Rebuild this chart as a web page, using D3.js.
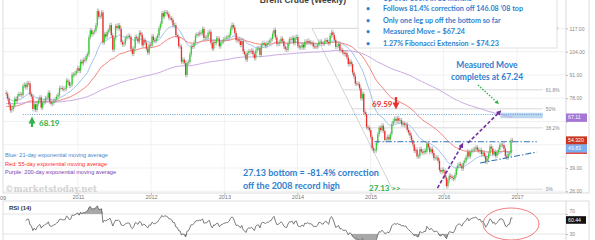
<!DOCTYPE html>
<html>
<head>
<meta charset="utf-8">
<script src="https://cdn.jsdelivr.net/npm/d3@7"></script>
<style>
  body { margin: 0; background: #fff; }
  svg { display: block; font-family: "Liberation Sans", Arial, sans-serif; }
  .note { font-family: Lato, "Open Sans", sans-serif; font-weight: bold; }
</style>
</head>
<body>
<svg width="595" height="240"></svg>
<script>
// weekly closes, Brent crude, first week = Jan 8 2010
const c2010 = [80.4,77.8,74.5,71.2, 71.9,73.8,77.6,76.4, 79.2,80.3,80.1,79.7, 84.9,85.5,84.1,86.4,86.2,
  80.2,79.0,72.0,74.6, 71.5,74.8,76.9,78.4, 72.7,75.5,76.0,78.0,78.2, 81.0,76.0,74.9,75.4,
  76.6,77.3,78.9,79.9, 83.6,83.7,83.2,83.0,83.5, 87.8,87.1,85.1,85.6, 91.2,91.0,91.8,93.2,94.8];
const c2011 = [93.3,98.4,97.4,99.4, 99.2,101.4,102.5,112.1, 115.9,113.8,114.9,115.6, 118.7,126.7,123.5,123.9,125.9,
  109.1,113.8,112.4,115.0, 115.8,118.8,113.2,105.1, 111.6,118.3,117.2,118.7,116.7, 109.4,108.0,108.6,111.4,
  112.3,112.8,112.2,105.4,102.8, 105.9,112.2,111.6,109.6, 114.6,113.6,107.6,110.5, 109.0,105.6,103.4,107.9,107.4];
const c2012 = [112.5,110.4,110.0,111.5, 113.0,117.1,119.6,125.5, 123.6,126.0,125.8,125.1,122.9, 122.7,121.7,118.7,118.8,
  113.2,112.3,107.1,106.8, 98.4,99.5,97.6,91.0,97.8, 98.2,102.4,107.0,106.8, 108.9,112.9,113.7,113.6,114.6,
  114.3,116.7,111.6,112.0, 112.0,114.6,115.1,108.8, 105.7,109.4,108.9,111.4,111.2, 107.0,109.1,109.6,110.8];
const c2013 = [111.3,111.9,111.9,113.3, 116.8,118.9,117.7,114.4, 110.4,110.9,109.9,107.7,110.0, 104.1,102.6,99.6,103.2,
  104.2,103.9,104.6,102.6,100.4, 104.6,105.9,105.9,102.2, 107.7,108.8,108.1,107.2, 108.9,108.9,110.4,111.0,114.0,
  116.1,112.0,108.2,108.6, 109.5,111.3,109.9,106.9, 105.5,105.1,108.5,111.0,110.7, 111.6,108.8,111.8,112.2];
const c2014 = [107.3,106.4,106.4,107.9,106.4, 109.6,109.1,110.0,109.1, 109.0,108.7,106.9,106.8, 106.7,107.5,109.5,109.6,
  108.6,108.4,109.8,110.5,109.4, 108.6,113.0,114.8,113.3, 110.6,106.7,107.2,108.4, 104.8,105.0,103.5,102.7,103.2,
  100.8,97.1,98.4,97.0, 92.3,90.2,86.2,86.1,85.9, 83.4,77.9,80.4,70.2, 69.1,61.9,61.4,60.2];
const c2015 = [56.4,50.1,48.8,48.8,53.0, 57.8,61.5,60.2,62.6, 59.7,54.7,55.3,56.4, 54.9,57.9,63.5,65.3,
  66.5,65.4,66.8,65.4,65.6, 63.3,63.9,63.0,63.3, 60.3,58.7,57.1,54.6,52.2, 48.6,49.2,45.5,45.5,
  49.6,48.1,47.5,48.6, 48.1,52.7,50.5,48.0,49.6, 47.4,44.5,44.7,44.9, 43.0,37.9,36.9,37.9];
const c2016 = [37.3,33.6,28.9,32.2,34.7, 34.1,33.4,33.0,35.1, 38.7,40.4,41.2,40.4, 38.7,41.9,43.1,45.1,48.1,
  45.4,47.8,48.7,49.3, 49.6,50.5,49.2,48.4, 49.0,46.8,47.6,45.7,42.5, 44.3,47.0,50.9,49.9,
  46.8,48.0,45.8,47.7,49.2, 51.9,52.0,51.8,49.7, 45.6,44.8,46.9,47.2, 54.5,54.32];

const closes = [].concat(c2010, c2011, c2012, c2013, c2014, c2015, c2016);
const firstWeek = new Date(2010, 0, 8);

// moving averages: periods and their levels read at the left edge
const emaPeriods = [21, 55, 200];
const emaSeeds = [78, 73, 75];
const emaColors = ["#9ec3ea", "#f3807a", "#c9a6e2"];

const priceTicks = [26, 39, 52, 65, 78, 91, 104, 117];
const yearTicks = [2011, 2012, 2013, 2014, 2015, 2016, 2017];

// fibonacci retracement
const fibLow = 27.13, fibHigh = 117;
const fibLevels = [0, 0.382, 0.5, 0.618, 1];
const fibLabels = ["0%", "38.2%", "50%", "61.8%", "100%"];

const boxLines = ["Up over 100% in 11 months",
  "Follows 81.4% correction off 146.08  \u201808 top",
  "Only one leg up off the bottom so far",
  "Measured Move = $67.24",
  "1.27%  Fibonacci Extension = $74.23"];

const badges = [
  {label: "67.11", value: 67.11, fill: "#a477d6"},
  {label: "54.320", value: 54.32, fill: "#c9361f"},
  {label: "49.83", value: 49.83, fill: "#7aaef0"}
];
const rsiBadge = 60.44;

const svg = d3.select("svg");
const W = 595, H = 240;
const plotL = 3, plotR = 566, plotB = 193;
const rsiT = 201, rsiB = 240;

let x = d3.scaleTime()
  .domain([new Date(2010, 0, 1), new Date(2017, 0, 1)])
  .range([4.8, 517]);
let y = d3.scaleLinear().domain([39, 117]).range([168, 28.4]);
let yr = d3.scaleLinear().domain([30, 70]).range([234, 214]);

const dates = closes.map((c, i) => d3.timeDay.offset(firstWeek, 7 * i));

function ema(vals, n, seed) {
  const k = 2 / (n + 1);
  let e = seed;
  return vals.map(v => (e = v * k + e * (1 - k)));
}

function rsi(vals, n) {
  let ag = 0, al = 0;
  const out = [null];
  for (let i = 1; i < vals.length; i++) {
    const ch = vals[i] - vals[i - 1];
    const g = Math.max(ch, 0), l = Math.max(-ch, 0);
    if (i <= n) {
      ag += g / n; al += l / n;
      out.push(i < n ? null : 100 - 100 / (1 + ag / al));
    } else {
      ag = (ag * (n - 1) + g) / n;
      al = (al * (n - 1) + l) / n;
      out.push(100 - 100 / (1 + ag / al));
    }
  }
  return out;
}

svg.append("rect").attr("width", W).attr("height", H).attr("fill", "#fff");

const defs = svg.append("defs");
defs.append("clipPath").attr("id", "main")
  .append("rect").attr("x", plotL).attr("y", 0).attr("width", plotR - plotL).attr("height", plotB);
defs.append("clipPath").attr("id", "rsi")
  .append("rect").attr("x", plotL).attr("y", rsiT).attr("width", plotR - plotL).attr("height", rsiB - rsiT);

function marker(id, color) {
  defs.append("marker").attr("id", id)
    .attr("viewBox", "0 0 10 10").attr("refX", 5).attr("refY", 5)
    .attr("markerWidth", 3.2).attr("markerHeight", 3.2).attr("orient", "auto")
    .append("path").attr("d", "M0,0L10,5L0,10z").attr("fill", color);
}
marker("arrP", "#7030a0");
marker("arrG", "#2fb24a");
marker("arrR", "#e8312a");

// grid
const grid = svg.append("g");
grid.selectAll(".vg").data(yearTicks).enter().append("line")
  .attr("x1", d => x(new Date(d, 0, 1))).attr("x2", d => x(new Date(d, 0, 1)))
  .attr("y1", 0).attr("y2", plotB)
  .attr("stroke", "#eeeeee").attr("stroke-width", 0.8);
grid.selectAll(".hg").data(priceTicks).enter().append("line")
  .attr("x1", plotL).attr("x2", plotR)
  .attr("y1", d => y(d)).attr("y2", d => y(d))
  .attr("stroke", "#eeeeee").attr("stroke-width", 0.8);
grid.selectAll(".rg").data([70, 30]).enter().append("line")
  .attr("x1", plotL).attr("x2", plotR)
  .attr("y1", d => yr(d)).attr("y2", d => yr(d))
  .attr("stroke", "#dddddd").attr("stroke-width", 0.8);

// frames
svg.append("rect").attr("x", plotL).attr("y", -1).attr("width", 586).attr("height", plotB + 1)
  .attr("fill", "none").attr("stroke", "#d4d4d4").attr("stroke-width", 0.8);
svg.append("line").attr("x1", plotR).attr("x2", plotR).attr("y1", 0).attr("y2", plotB)
  .attr("stroke", "#cfcfcf").attr("stroke-width", 0.8);
svg.append("rect").attr("x", plotL).attr("y", rsiT).attr("width", 586).attr("height", 45)
  .attr("fill", "none").attr("stroke", "#d4d4d4").attr("stroke-width", 0.8);
svg.append("line").attr("x1", plotR).attr("x2", plotR).attr("y1", rsiT).attr("y2", rsiB)
  .attr("stroke", "#cfcfcf").attr("stroke-width", 0.8);

// axes
const axX = svg.append("g").attr("transform", `translate(0, ${plotB})`)
  .call(d3.axisBottom(x).tickValues(yearTicks.map(d => new Date(d, 0, 1)))
    .tickFormat(d3.timeFormat("%Y")).tickSize(2).tickPadding(0.5));
axX.select(".domain").remove();
axX.selectAll("line").attr("stroke", "#bbb");
axX.selectAll("text").attr("font-size", 5.5).attr("fill", "#777");
svg.append("text").attr("x", 0).attr("y", 200).attr("font-size", 5.5).attr("fill", "#777").text("09");

// tick labels hidden by the value badges are left out, as in the picture
const hidden = d => badges.some(b => Math.abs(y(b.value) - y(d)) < 7);
const axY = svg.append("g").attr("transform", `translate(${plotR}, 0)`)
  .call(d3.axisRight(y).tickValues(priceTicks)
    .tickFormat(d => hidden(d) ? "" : d3.format(".2f")(d)).tickSize(2).tickPadding(1.5));
axY.select(".domain").remove();
axY.selectAll("line").attr("stroke", "#bbb");
axY.selectAll("text").attr("font-size", 5).attr("fill", "#888");

const axR = svg.append("g").attr("transform", `translate(${plotR}, 0)`)
  .call(d3.axisRight(yr).tickValues([70, 30]).tickSize(2).tickPadding(1.5));
axR.select(".domain").remove();
axR.selectAll("line").attr("stroke", "#bbb");
axR.selectAll("text").attr("font-size", 5).attr("fill", "#888")
  .attr("dy", d => d === 70 ? "-0.25em" : "0.32em");

// main chart content
const main = svg.append("g").attr("clip-path", "url(#main)");

// fibonacci tool
const fibStart = new Date(2014, 2, 15), fibEnd = new Date(2015, 3, 20), fibRight = new Date(2017, 4, 10);
main.append("line")
  .attr("x1", x(fibStart)).attr("y1", y(fibHigh)).attr("x2", x(fibEnd)).attr("y2", y(fibLow))
  .attr("stroke", "#c8c8c8").attr("stroke-width", 0.8);
const fibX = d3.scaleLinear().domain([fibHigh, fibLow]).range([x(fibStart), x(fibEnd)]);
main.selectAll(".fib").data(fibLevels).enter().append("line")
  .attr("x1", d => fibX(fibLow + d * (fibHigh - fibLow)))
  .attr("x2", x(fibRight))
  .attr("y1", d => y(fibLow + d * (fibHigh - fibLow)))
  .attr("y2", d => y(fibLow + d * (fibHigh - fibLow)))
  .attr("stroke", "#cfcfcf").attr("stroke-width", 0.8);
main.selectAll(".fibt").data(fibLevels).enter().append("text")
  .attr("x", x(fibRight) + 3)
  .attr("y", d => y(fibLow + d * (fibHigh - fibLow)) + 1.7)
  .attr("font-size", 4.8).attr("fill", "#888")
  .text((d, i) => fibLabels[i]);

// measured move target zone
main.append("rect")
  .attr("x", x(new Date(2016, 9, 10))).attr("width", x(fibRight) - x(new Date(2016, 9, 10)))
  .attr("y", y(69.9)).attr("height", y(66.8) - y(69.9))
  .attr("fill", "#bcd6f0");

// dotted 68.19 level
main.append("line")
  .attr("x1", x(new Date(2010, 3, 1))).attr("x2", x(fibRight))
  .attr("y1", y(68.9)).attr("y2", y(68.9))
  .attr("stroke", "#5b9bd5").attr("stroke-width", 0.9).attr("stroke-dasharray", "1,1.3");

// moving averages
const line = d3.line().x((d, i) => x(dates[i])).y(d => y(d));
emaPeriods.forEach((n, k) => {
  main.append("path").datum(ema(closes, n, emaSeeds[k]))
    .attr("d", line).attr("fill", "none")
    .attr("stroke", emaColors[k]).attr("stroke-width", 1);
});

// candles
const wickPad = 2.4;
const candles = main.append("g");
closes.forEach((c, i) => {
  const o = i === 0 ? 81.0 : closes[i - 1];
  const cx = x(dates[i]);
  const top = y(Math.max(o, c)), bot = y(Math.min(o, c));
  candles.append("line")
    .attr("x1", cx).attr("x2", cx)
    .attr("y1", top - wickPad).attr("y2", bot + wickPad)
    .attr("stroke", "#a0a0a0").attr("stroke-width", 0.7);
  candles.append("rect")
    .attr("x", cx - 0.65).attr("width", 1.3)
    .attr("y", top).attr("height", Math.max(0.7, bot - top))
    .attr("fill", c >= o ? "#2fd22f" : "#f22b2b");
});

// dash-dot support / resistance
main.append("line")
  .attr("x1", x(new Date(2015, 0, 20))).attr("x2", x(new Date(2017, 3, 10)))
  .attr("y1", y(53.7)).attr("y2", y(53.7))
  .attr("stroke", "#2e75b6").attr("stroke-width", 1.1).attr("stroke-dasharray", "6,2,1.5,2");
main.append("line")
  .attr("x1", x(new Date(2016, 6, 1))).attr("x2", x(new Date(2017, 3, 10)))
  .attr("y1", y(41.8)).attr("y2", y(47.9))
  .attr("stroke", "#2e75b6").attr("stroke-width", 1.1).attr("stroke-dasharray", "6,2,1.5,2");

// measured move arrows
[[new Date(2015, 11, 1), 27.8, new Date(2016, 3, 1), 51.8],
 [new Date(2016, 4, 1), 53.0, new Date(2016, 9, 6), 70.3]].forEach(a => {
  main.append("line")
    .attr("x1", x(a[0])).attr("y1", y(a[1])).attr("x2", x(a[2])).attr("y2", y(a[3]))
    .attr("stroke", "#7030a0").attr("stroke-width", 1.6).attr("stroke-dasharray", "3.5,2")
    .attr("marker-end", "url(#arrP)");
});
main.append("line")
  .attr("x1", x(new Date(2016, 5, 20))).attr("y1", y(85.4))
  .attr("x2", x(new Date(2016, 8, 25))).attr("y2", y(75.5))
  .attr("stroke", "#2fb24a").attr("stroke-width", 1.3).attr("stroke-dasharray", "1.5,1.5")
  .attr("marker-end", "url(#arrG)");

// annotations on the price chart
svg.append("line").attr("x1", 32).attr("x2", 32).attr("y1", 127).attr("y2", 120)
  .attr("stroke", "#2fb24a").attr("stroke-width", 2.2).attr("marker-end", "url(#arrG)");
svg.append("text").attr("class", "note").attr("x", 39).attr("y", 126)
  .attr("font-size", 8).attr("fill", "#2fb24a").text("68.19");
svg.append("text").attr("class", "note").attr("x", 372).attr("y", 107)
  .attr("font-size", 8).attr("fill", "#e8312a").text("69.59");
svg.append("line").attr("x1", 396).attr("x2", 396).attr("y1", 97).attr("y2", 106)
  .attr("stroke", "#e8312a").attr("stroke-width", 2.2).attr("marker-end", "url(#arrR)");
svg.append("text").attr("class", "note").attr("x", 369).attr("y", 191)
  .attr("font-size", 8).attr("fill", "#2fb24a").text("27.13 >>");

svg.append("text").attr("class", "note").attr("x", 487).attr("y", 68)
  .attr("text-anchor", "middle").attr("font-size", 8.5).attr("fill", "#2f7fd0").text("Measured Move");
svg.append("text").attr("class", "note").attr("x", 487).attr("y", 80)
  .attr("text-anchor", "middle").attr("font-size", 8.5).attr("fill", "#2f7fd0").text("completes at 67.24");

svg.append("text").attr("class", "note").attr("x", 243).attr("y", 176)
  .attr("font-size", 9).attr("fill", "#2f7fd0").text("27.13 bottom = -81.4% correction");
svg.append("text").attr("class", "note").attr("x", 243).attr("y", 189)
  .attr("font-size", 9).attr("fill", "#2f7fd0").text("off the 2008  record high");

// legend for the averages
const legend = ["Blue: 21-day exponential moving average",
  "Red: 55-day exponential moving average",
  "Purple: 200-day exponential moving average"];
const legendColors = ["#4a86c8", "#ff2a2a", "#7a3bb0"];
svg.selectAll(".leg").data(legend).enter().append("text")
  .attr("x", 5).attr("y", (d, i) => 157 + i * 8.5)
  .attr("font-size", 5.6).attr("fill", (d, i) => legendColors[i]).text(d => d);

svg.append("text").attr("x", 5).attr("y", 191.5)
  .attr("font-family", "DejaVu Serif").attr("font-weight", "bold")
  .attr("font-size", 8.6).attr("fill", "#d2d2d2").text("\u00a9marketstoday.net");

// title and info box
svg.append("text").attr("x", 303).attr("y", 3)
  .attr("text-anchor", "middle").attr("font-weight", "bold")
  .attr("font-size", 8.5).attr("fill", "#404040").text("Brent Crude (Weekly)");
svg.append("rect").attr("x", 358).attr("y", -3).attr("width", 199).attr("height", 51)
  .attr("fill", "#fff").attr("stroke", "#dadada").attr("stroke-width", 0.8);
const boxY = [0.5, 11, 22.5, 34, 45.5];
boxLines.forEach((t, i) => {
  svg.append("text").attr("class", "note").attr("x", 366).attr("y", boxY[i])
    .attr("font-size", 7).attr("fill", "#2f7fd0").text("\u2022");
  svg.append("text").attr("class", "note").attr("x", 383).attr("y", boxY[i])
    .attr("font-size", 7.2).attr("fill", "#2f7fd0").text(t);
});

// price badges
badges.forEach(b => {
  svg.append("rect").attr("x", plotR).attr("y", y(b.value) - 4.2).attr("width", 21).attr("height", 8.4)
    .attr("fill", b.fill);
  svg.append("text").attr("x", plotR + 2).attr("y", y(b.value) + 1.8)
    .attr("font-size", 5.2).attr("fill", "#fff").text(b.label);
});
svg.append("line").attr("x1", plotR).attr("x2", plotR + 21)
  .attr("y1", y(49.83) + 4.6).attr("y2", y(49.83) + 4.6)
  .attr("stroke", "#e02020").attr("stroke-width", 1.2);

// RSI panel
const rsiVals = rsi(closes, 14);
const rsiPts = rsiVals.map((r, i) => ({d: dates[i], r})).filter(p => p.r !== null);
const rsiG = svg.append("g").attr("clip-path", "url(#rsi)");
rsiG.append("path").datum(rsiPts)
  .attr("d", d3.area().x(p => x(p.d)).y0(yr(70)).y1(p => yr(Math.max(70, p.r))))
  .attr("fill", "#a8a8a8");
rsiG.append("path").datum(rsiPts)
  .attr("d", d3.area().x(p => x(p.d)).y0(yr(30)).y1(p => yr(Math.min(30, p.r))))
  .attr("fill", "#a8a8a8");
rsiG.append("path").datum(rsiPts)
  .attr("d", d3.line().x(p => x(p.d)).y(p => yr(p.r)))
  .attr("fill", "none").attr("stroke", "#5a5a5a").attr("stroke-width", 0.8);

svg.append("text").attr("x", 9).attr("y", 210).attr("font-weight", "bold")
  .attr("font-size", 6).attr("fill", "#333").text("RSI (14)");

svg.append("rect").attr("x", plotR).attr("y", yr(rsiBadge) - 2.6).attr("width", 20).attr("height", 7.6)
  .attr("fill", "#111");
svg.append("text").attr("x", plotR + 2).attr("y", yr(rsiBadge) + 2.8)
  .attr("font-size", 5.2).attr("fill", "#fff").text(rsiBadge.toFixed(2));

svg.append("ellipse").attr("cx", 511).attr("cy", 224).attr("rx", 28).attr("ry", 16)
  .attr("fill", "none").attr("stroke", "#ee6b6b").attr("stroke-width", 0.9);
</script>
</body>
</html>
